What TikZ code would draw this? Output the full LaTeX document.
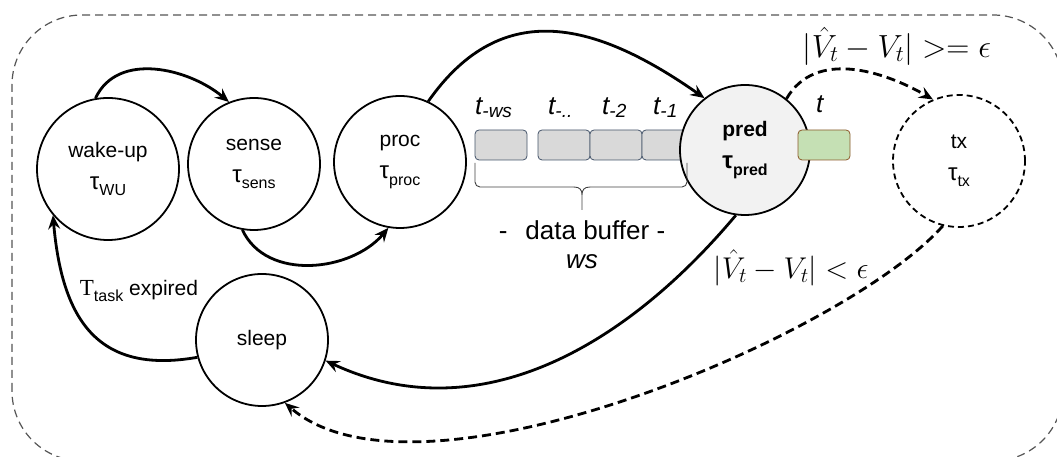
\RequirePackage{fix-cm}
\documentclass[tikz,border=0pt]{standalone}
\usepackage[no-math]{fontspec}
\setmainfont{Liberation Sans}
\newfontfamily\serifT{Liberation Serif}
\usetikzlibrary{arrows.meta}

\definecolor{bufgray}{HTML}{D9D9D9}
\definecolor{bufline}{HTML}{44546A}
\definecolor{newfill}{HTML}{C5E0B4}
\definecolor{newline}{HTML}{8C5A2B}
\definecolor{predfill}{HTML}{F2F2F2}
\definecolor{framegray}{HTML}{555555}

% lowered subscript in the text font
\newcommand\lowsub[2][16]{\raisebox{-0.3em}{\fontsize{#1}{#1}\selectfont #2}}
\newcommand\tauT[1]{{\fontsize{24}{24}\selectfont τ}\lowsub{#1}}
\newcommand\tlab[1]{{\fontsize{26}{26}\selectfont\itshape t}\lowsub[19]{\itshape #1}}

\begin{document}
\begin{tikzpicture}[x=1pt,y=1pt,
  state/.style={circle, draw, line width=1.8pt, minimum size=132pt, inner sep=0pt,
    align=center, font=\fontsize{21}{32}\selectfont},
  flow/.style={line width=2.8pt, -{Stealth[length=14pt,width=12pt,inset=5pt]}},
  dflow/.style={flow, dash pattern=on 9pt off 5pt},
  buf/.style={draw=bufline, fill=bufgray, rounded corners=4pt, line width=0.8pt,
    minimum width=52pt, minimum height=30pt, inner sep=0pt},
  lab/.style={anchor=base west, inner sep=0pt},
  bigtext/.style={font=\fontsize{26}{28}\selectfont, inner sep=0pt},
  mathlab/.style={font=\fontsize{32}{34}\selectfont, inner sep=0pt}]

\useasboundingbox (0,0) rectangle (1057,457);
\clip (0,0) rectangle (1057,457);

% outer frame
\draw[framegray, line width=1.2pt, dash pattern=on 8pt off 5pt, rounded corners=70pt]
  (12,-4) rectangle (1063,442);

% states
\node[state, minimum size=142pt] (wu) at (108,288) {wake-up\\\tauT{WU}};
\node[state] (se) at (254,293) {sense\\\tauT{sens}};
\node[state] (pr) at (400,295) {proc\\\tauT{proc}};
\node[state] (sl) at (262,117) {sleep};
\node[state, dash pattern=on 6pt off 4pt] (tx) at (959,296) {tx\\\tauT{tx}};

% data buffer
\node[buf] (b1) at (501,312) {};
\node[buf] (b2) at (564,312) {};
\node[buf] (b3) at (616,312) {};
\node[buf] (b4) at (668,312) {};

\node[lab] (l1) at (475,342) {\tlab{-ws}};
\node[lab] (l2) at (548,342) {\tlab{-..}};
\node[lab] (l3) at (602,342) {\tlab{-2}};
\node[lab] (l4) at (653,342) {\tlab{-1}};
\node[lab] (l5) at (816,344) {{\fontsize{26}{26}\selectfont\itshape t}};

% prediction state, drawn over the last buffer slot
\node[state, minimum size=130pt, fill=predfill, font=\fontsize{21}{32}\selectfont\bfseries]
  (pd) at (745,307) {pred\\\tauT{pred}};

% new sample, drawn over the prediction state's edge
\node[buf, draw=newline, fill=newfill] (bn) at (824,312) {};

% brace under the buffer
\coordinate (brL) at (475,294);
\coordinate (brR) at (687,294);
\coordinate (brT) at (582,247);
\draw[black!75, line width=0.9pt, rounded corners=5pt]
  (brL) -- (475,270) -- (574,270);
\draw[black!75, line width=0.9pt, rounded corners=5pt]
  (brR) -- (687,270) -- (590,270);
\draw[black!75, line width=0.9pt]
  (574,270) .. controls (580,270) and (582,267) .. (582,262) -- (brT)
  (590,270) .. controls (584,270) and (582,267) .. (582,262);

\node[bigtext] (dbuf) at (582,227) {-\hspace{18pt}data buffer -};
\node[bigtext, font=\fontsize{26}{28}\selectfont\itshape] (ws) at (582,195) {ws};

% condition labels
\node[mathlab] (cup) at (897,411) {$|\hat{V}_t - V_t| >= \epsilon$};
\node[mathlab, font=\fontsize{30}{32}\selectfont] (cdn) at (791,189) {$|\hat{V}_t - V_t| < \epsilon$};
\node[font=\fontsize{21}{24}\selectfont, inner sep=0pt] (texp) at (139,166)
  {{\fontsize{23}{24}\selectfont\serifT T}\lowsub{task} expired};

% transitions
\draw[flow] (wu.100) to[out=65, in=140] (se.112);
\draw[flow] (se.-100) to[out=-65, in=-130] (pr.-100);
\draw[flow] (pr.65) to[out=55, in=145, looseness=1.2] (pd.128);
\draw[dflow] (pd.51) to[out=60, in=150] (tx.113);
\draw[flow] (pd.-98) to[out=-130, in=-25] (sl.-18);
\draw[dflow] (tx.-104) .. controls (844,120) and (417,-60) .. (sl.-70);
\draw[flow] (sl.195) to[out=190, in=-85, looseness=1.3] (wu.220);

\end{tikzpicture}
\end{document}
